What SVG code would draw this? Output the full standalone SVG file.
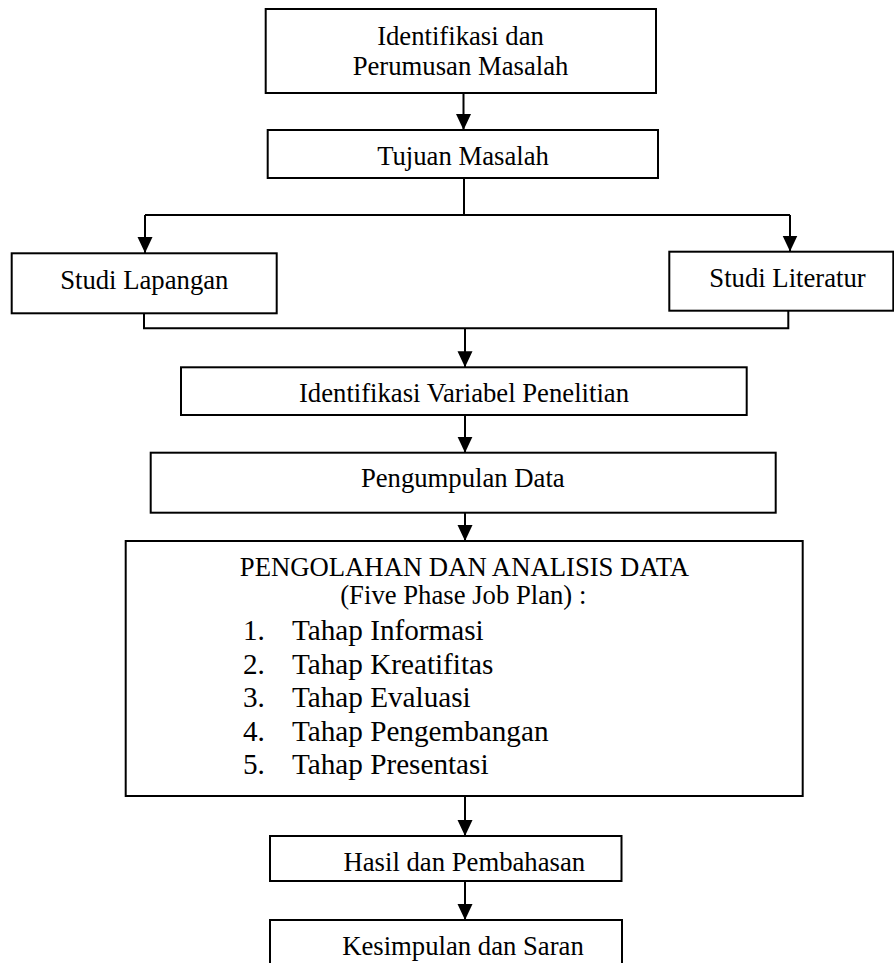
<svg xmlns="http://www.w3.org/2000/svg" width="894" height="963" viewBox="0 0 894 963">
<defs>
<marker id="ah" markerUnits="userSpaceOnUse" markerWidth="17" markerHeight="16" refX="16" refY="7.5" orient="auto">
<path d="M0,0 L16,7.5 L0,15 z" fill="#000"/>
</marker>
<style>
.box{fill:#fff;stroke:#000;stroke-width:2}
.t{font-family:"Liberation Serif","Times New Roman",serif;font-size:26.7px;fill:#000;text-anchor:middle}
.li{font-family:"Liberation Serif","Times New Roman",serif;font-size:29.2px;fill:#000}
.c{fill:none;stroke:#000;stroke-width:2}
.a{fill:none;stroke:#000;stroke-width:2;marker-end:url(#ah)}
</style>
</defs>
<rect width="894" height="963" fill="#fff"/>
<g id="connectors">
<line class="a" x1="463.5" y1="93" x2="463.5" y2="130"/>
<polyline class="c" points="464,178 464,215"/>
<line class="c" x1="145" y1="215" x2="790" y2="215"/>
<line class="a" x1="145" y1="215" x2="145" y2="253"/>
<line class="a" x1="790" y1="215" x2="790" y2="251.5"/>
<polyline class="c" points="144,313 144,328.3 788.3,328.3 788.3,310.7"/>
<line class="a" x1="465" y1="328.3" x2="465" y2="367.3"/>
<line class="a" x1="465" y1="415" x2="465" y2="452.7"/>
<line class="a" x1="465" y1="512.7" x2="465" y2="541"/>
<line class="a" x1="465" y1="796" x2="465" y2="836"/>
<line class="a" x1="465" y1="881" x2="465" y2="920"/>
</g>
<g id="n1">
<rect class="box" x="265.7" y="9" width="390.3" height="84"/>
<text class="t" x="460.5" y="45">Identifikasi dan</text>
<text class="t" x="460.5" y="75">Perumusan Masalah</text>
</g>
<g id="n2">
<rect class="box" x="267.7" y="130" width="390.3" height="48"/>
<text class="t" x="463" y="165">Tujuan Masalah</text>
</g>
<g id="n3">
<rect class="box" x="11.7" y="253.3" width="265" height="60"/>
<text class="t" x="144.3" y="289">Studi Lapangan</text>
</g>
<g id="n4">
<rect class="box" x="669.3" y="251.7" width="224" height="59"/>
<text class="t" x="787.5" y="286.7">Studi Literatur</text>
</g>
<g id="n5">
<rect class="box" x="181" y="367.3" width="565.7" height="47.7"/>
<text class="t" x="464" y="401.7">Identifikasi Variabel Penelitian</text>
</g>
<g id="n6">
<rect class="box" x="150.7" y="452.7" width="625" height="60"/>
<text class="t" x="462.8" y="486.7">Pengumpulan Data</text>
</g>
<g id="n7">
<rect class="box" x="125.7" y="541" width="677" height="255"/>
<text class="t" x="464.5" y="575.7">PENGOLAHAN DAN ANALISIS DATA</text>
<text class="t" x="463.3" y="604">(Five Phase Job Plan) :</text>
<text class="li" x="243" y="640">1.</text><text class="li" x="292" y="640">Tahap Informasi</text>
<text class="li" x="243" y="673.5">2.</text><text class="li" x="292" y="673.5">Tahap Kreatifitas</text>
<text class="li" x="243" y="707">3.</text><text class="li" x="292" y="707">Tahap Evaluasi</text>
<text class="li" x="243" y="740.5">4.</text><text class="li" x="292" y="740.5">Tahap Pengembangan</text>
<text class="li" x="243" y="774">5.</text><text class="li" x="292" y="774">Tahap Presentasi</text>
</g>
<g id="n8">
<rect class="box" x="270" y="836" width="351.5" height="45"/>
<text class="t" x="464.3" y="871">Hasil dan Pembahasan</text>
</g>
<g id="n9">
<rect class="box" x="270" y="920" width="352" height="60"/>
<text class="t" x="463" y="955">Kesimpulan dan Saran</text>
</g>
</svg>
